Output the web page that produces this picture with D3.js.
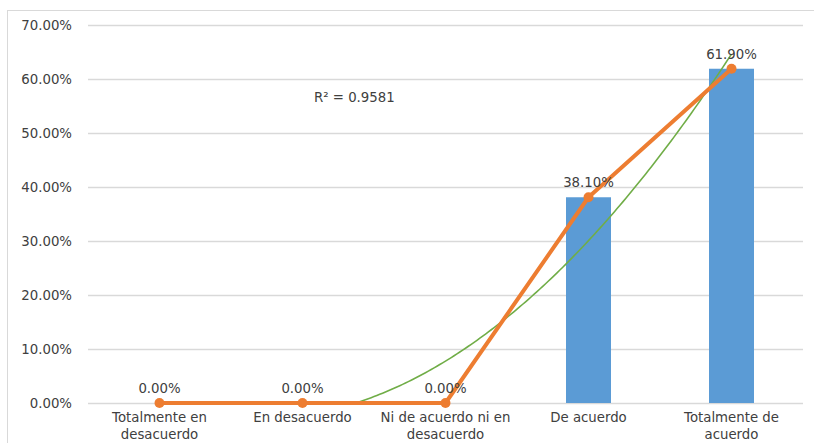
<!DOCTYPE html>
<html>
<head>
<meta charset="utf-8">
<script src="https://cdn.jsdelivr.net/npm/d3@7"></script>
<style>
  body { margin: 0; background: #fff; }
  text { font-family: "DejaVu Sans", sans-serif; fill: #404040; }
</style>
</head>
<body>
<div id="chart"></div>
<script>
const width = 814, height = 443;

// chart data
const categories = [
	["Totalmente en", "desacuerdo"],
	["En desacuerdo"],
	["Ni de acuerdo ni en", "desacuerdo"],
	["De acuerdo"],
	["Totalmente de", "acuerdo"]
];
const values = [0, 0, 0, 0.381, 0.619];
const yTicks = [0, 0.1, 0.2, 0.3, 0.4, 0.5, 0.6, 0.7];

const margin = {left: 88, right: 11, top: 25, bottom: 40};
const fontSize = 13.3;

const svg = d3.select("#chart")
	.append("svg")
	.attr("width", width)
	.attr("height", height);

// outer chart frame
svg.append("rect")
	.attr("x", 7.5)
	.attr("y", 10.5)
	.attr("width", width + 10)
	.attr("height", height)
	.attr("fill", "none")
	.attr("stroke", "#d9d9d9");

const x = d3.scaleBand()
	.domain(d3.range(categories.length))
	.range([margin.left, width - margin.right]);

const y = d3.scaleLinear()
	.domain([0, 0.7])
	.range([height - margin.bottom, margin.top]);

const cx = (i) => x(i) + x.bandwidth() / 2;

// gridlines
svg.append("g")
	.selectAll("line")
	.data(yTicks)
	.enter()
	.append("line")
	.attr("x1", margin.left)
	.attr("x2", width - margin.right)
	.attr("y1", (d) => Math.round(y(d)) + 0.5)
	.attr("y2", (d) => Math.round(y(d)) + 0.5)
	.attr("stroke", "#d9d9d9")
	.attr("stroke-width", 1.3);

// y axis labels
const fmt = d3.format(".2%");
svg.append("g")
	.selectAll("text")
	.data(yTicks)
	.enter()
	.append("text")
	.attr("x", 72)
	.attr("y", (d) => y(d) + 4.5)
	.attr("text-anchor", "end")
	.attr("font-size", fontSize)
	.text(fmt);

// bars
svg.append("g")
	.selectAll("rect")
	.data(values)
	.enter()
	.append("rect")
	.attr("x", (d, i) => cx(i) - 22.5)
	.attr("width", 45)
	.attr("y", (d) => y(d))
	.attr("height", (d) => y(0) - y(d))
	.attr("fill", "#5b9bd5");

// polynomial (order 2) trendline, least squares fit of the values
const xs = values.map((d, i) => i + 1);
const n = xs.length;
const mx = d3.mean(xs);
const ts = xs.map((v) => v - mx);
const s2 = d3.sum(ts, (t) => t * t);
const s4 = d3.sum(ts, (t) => t ** 4);
const sy = d3.sum(values);
const sty = d3.sum(ts, (t, i) => t * values[i]);
const st2y = d3.sum(ts, (t, i) => t * t * values[i]);
const cc = (st2y - s2 * sy / n) / (s4 - s2 * s2 / n);
const aa = (sy - cc * s2) / n;
const bb = sty / s2;
const fit = (xv) => aa + bb * (xv - mx) + cc * (xv - mx) ** 2;
const meanY = d3.mean(values);
const r2 = 1 - d3.sum(values, (v, i) => (v - fit(xs[i])) ** 2) / d3.sum(values, (v) => (v - meanY) ** 2);

const xc = d3.scaleLinear().domain([1, n]).range([cx(0), cx(n - 1)]);

svg.append("clipPath")
	.attr("id", "plotClip")
	.append("rect")
	.attr("x", margin.left)
	.attr("y", 0)
	.attr("width", width - margin.left - margin.right)
	.attr("height", y(0));

const trend = d3.range(1, n + 0.001, 0.02);
svg.append("path")
	.datum(trend)
	.attr("clip-path", "url(#plotClip)")
	.attr("d", d3.line().x((d) => xc(d)).y((d) => y(fit(d))))
	.attr("fill", "none")
	.attr("stroke", "#70ad47")
	.attr("stroke-width", 1.6);

// line series
svg.append("path")
	.datum(values)
	.attr("d", d3.line().x((d, i) => cx(i)).y((d) => y(d)))
	.attr("fill", "none")
	.attr("stroke", "#ed7d31")
	.attr("stroke-width", 4)
	.attr("stroke-linejoin", "round");

svg.append("g")
	.selectAll("circle")
	.data(values)
	.enter()
	.append("circle")
	.attr("cx", (d, i) => cx(i))
	.attr("cy", (d) => y(d))
	.attr("r", 5)
	.attr("fill", "#ed7d31");

// data labels
svg.append("g")
	.selectAll("text")
	.data(values)
	.enter()
	.append("text")
	.attr("x", (d, i) => cx(i))
	.attr("y", (d) => y(d) - 10)
	.attr("text-anchor", "middle")
	.attr("font-size", fontSize)
	.text(fmt);

// R squared label
svg.append("text")
	.attr("x", 314)
	.attr("y", 102)
	.attr("font-size", fontSize)
	.text("R² = " + r2.toFixed(4));

// category labels
const catLabels = svg.append("g")
	.selectAll("text")
	.data(categories)
	.enter()
	.append("text")
	.attr("x", (d, i) => cx(i))
	.attr("y", 422)
	.attr("text-anchor", "middle")
	.attr("font-size", fontSize);

catLabels.selectAll("tspan")
	.data((d, i) => d.map((s) => ({s, i})))
	.enter()
	.append("tspan")
	.attr("x", (d) => cx(d.i))
	.attr("dy", (d, j) => j === 0 ? 0 : 17)
	.text((d) => d.s);
</script>
</body>
</html>
